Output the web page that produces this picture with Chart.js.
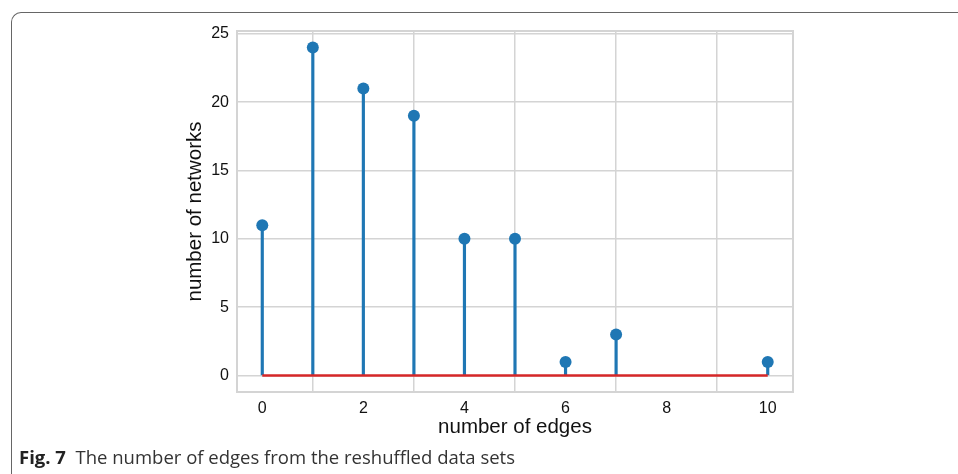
<!DOCTYPE html>
<html>
<head>
<meta charset="utf-8">
<script src="https://cdn.jsdelivr.net/npm/chart.js@4/dist/chart.umd.min.js"></script>
<style>
  html, body { margin: 0; padding: 0; background: #fff; }
  #wrap { position: relative; width: 958px; height: 474px; overflow: hidden; }
  #frame {
    position: absolute; left: 11px; top: 12px; width: 980px; height: 470px;
    border-top: 1.5px solid #666; border-left: 1.5px solid #666;
    border-top-left-radius: 10px; box-sizing: border-box;
  }
  #caption {
    position: absolute; left: 19px; top: 444px;
    font-family: "Open Sans", sans-serif; font-size: 18.5px; color: #333;
    white-space: pre;
  }
  #caption b { color: #222; }
  canvas { position: absolute; left: 0; top: 0; }
</style>
</head>
<body>
<div id="wrap">
  <div id="frame"></div>
  <canvas id="stemChart" width="958" height="474"></canvas>
  <div id="caption"><b>Fig. 7</b>  The number of edges from the reshuffled data sets</div>
</div>
<script>
// data
const edgeCounts = [0, 1, 2, 3, 4, 5, 6, 7, 10];
const networkCounts = [11, 24, 21, 19, 10, 10, 1, 3, 1];
const xTicks = [0, 2, 4, 6, 8, 10];
const yTicks = [0, 5, 10, 15, 20, 25];

const stemBlue = '#1f77b4';
const baseRed = '#d62728';
const gridGrey = '#d4d4d4';

const points = edgeCounts.map((x, i) => ({ x: x, y: networkCounts[i] }));
const baseline = [{ x: edgeCounts[0], y: 0 }, { x: edgeCounts[edgeCounts.length - 1], y: 0 }];

// light grey box around the plot area (all four spines)
const boxPlugin = {
  id: 'plotBox',
  beforeDatasetsDraw(chart) {
    const a = chart.chartArea;
    const ctx = chart.ctx;
    ctx.save();
    ctx.strokeStyle = gridGrey;
    ctx.lineWidth = 2;
    ctx.strokeRect(a.left, a.top, a.right - a.left, a.bottom - a.top);
    ctx.restore();
  }
};

const ctx = document.getElementById('stemChart').getContext('2d');
new Chart(ctx, {
  data: {
    datasets: [
      {
        type: 'scatter',
        data: points,
        pointRadius: 6,
        pointHoverRadius: 6,
        pointBackgroundColor: stemBlue,
        pointBorderWidth: 0,
        showLine: false,
        order: 0
      },
      {
        type: 'line',
        data: baseline,
        borderColor: baseRed,
        borderWidth: 2.5,
        pointRadius: 0,
        fill: false,
        order: 1
      },
      {
        type: 'bar',
        data: points,
        backgroundColor: stemBlue,
        barThickness: 2.5,
        order: 2
      }
    ]
  },
  options: {
    responsive: false,
    animation: false,
    layout: { padding: { left: 183, right: 165, top: 31, bottom: 34 } },
    plugins: { legend: { display: false }, tooltip: { enabled: false } },
    scales: {
      x: {
        type: 'linear',
        min: -0.5,
        max: 10.5,
        offset: false,
        afterFit: s => { s.height = 48; },
        afterBuildTicks: s => { s.ticks = xTicks.map(v => ({ value: v })); },
        grid: { color: gridGrey, lineWidth: 1.5, drawTicks: false },
        border: { display: false },
        ticks: { color: '#111', padding: 7, font: { family: 'Liberation Sans', size: 16 } },
        title: { display: true, text: 'number of edges', color: '#111', padding: 0,
          font: { family: 'Liberation Sans', size: 20.5 } }
      },
      y: {
        type: 'linear',
        min: -1.2,
        max: 25.2,
        afterFit: s => { s.width = 54; },
        afterBuildTicks: s => { s.ticks = yTicks.map(v => ({ value: v })); },
        grid: { color: gridGrey, lineWidth: 1.5, drawTicks: false },
        border: { display: false },
        ticks: { color: '#111', padding: 8, font: { family: 'Liberation Sans', size: 16 } },
        title: { display: true, text: 'number of networks', color: '#111', padding: 0,
          font: { family: 'Liberation Sans', size: 20.5 } }
      }
    }
  },
  plugins: [boxPlugin]
});
</script>
</body>
</html>
